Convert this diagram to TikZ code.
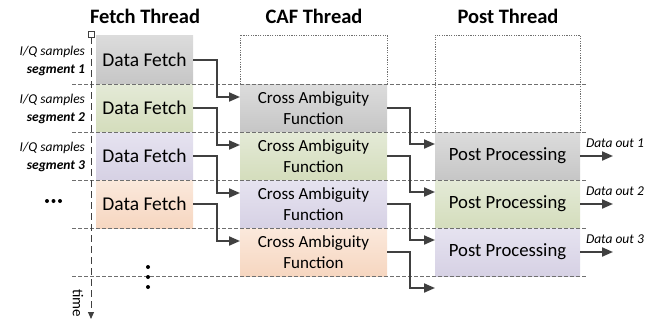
\documentclass[tikz,border=0pt]{standalone}
\usepackage{fontspec}
\setmainfont{Carlito}
\usetikzlibrary{arrows.meta,calc,positioning}
\definecolor{arrowc}{HTML}{404040}
\definecolor{gridc}{HTML}{6F6F6F}
\definecolor{grayT}{HTML}{DCDCDC}\definecolor{grayB}{HTML}{C6C6C6}
\definecolor{greenT}{HTML}{E4EAD7}\definecolor{greenB}{HTML}{D4DDBC}
\definecolor{lavT}{HTML}{E6E3F0}\definecolor{lavB}{HTML}{D6D1E4}
\definecolor{peachT}{HTML}{FBE9DC}\definecolor{peachB}{HTML}{F6D6C0}
\tikzset{
  every node/.style={inner sep=0pt, outer sep=0pt},
  header/.style={font=\fontsize{20.5}{22}\selectfont\bfseries},
  fetchbox/.style={font=\fontsize{19.5}{21.5}\selectfont, align=center, minimum width=97pt, minimum height=48pt},
  cafbox/.style={font=\fontsize{17}{21}\selectfont, align=center, minimum width=147pt, minimum height=48pt},
  postbox/.style={font=\fontsize{18.7}{21}\selectfont, align=center, minimum width=145pt, minimum height=48pt},
  cgray/.style={top color=grayT, bottom color=grayB},
  cgreen/.style={top color=greenT, bottom color=greenB},
  clav/.style={top color=lavT, bottom color=lavB},
  cpeach/.style={top color=peachT, bottom color=peachB},
  emptybox/.style={draw=gridc, dash pattern=on 1.2pt off 1.2pt, line width=1pt},
  gridline/.style={draw=gridc, dash pattern=on 3.5pt off 2.5pt, line width=0.8pt},
  arr/.style={draw=arrowc, line width=2pt, -{Triangle[length=11pt,width=9pt]}},
  sidelabel/.style={font=\fontsize{13.5}{18}\selectfont, align=right, anchor=east},
  outlabel/.style={font=\fontsize{13.5}{14}\selectfont\itshape, anchor=west},
  dot/.style={circle, fill=black, minimum size=4pt},
}
\begin{document}
\begin{tikzpicture}[x=1pt,y=-1pt]
\useasboundingbox (0,0) rectangle (656,324);
% headers
\node[header] (hf) at (145,16) {Fetch Thread};
\node[header] (hc) at (314,16) {CAF Thread};
\node[header] (hp) at (508,16) {Post Thread};
% fetch boxes
\node[fetchbox, cgray]  (f1) at (144.5,59.5) {Data Fetch};
\node[fetchbox, cgreen] (f2) at (144.5,108) {Data Fetch};
\node[fetchbox, clav]   (f3) at (144.5,156) {Data Fetch};
\node[fetchbox, cpeach] (f4) at (144.5,204) {Data Fetch};
% caf boxes
\node[cafbox, emptybox, minimum height=49pt] (c0) at (313.5,59.5) {};
\node[cafbox, cgray]  (c1) at (313.5,108) {Cross Ambiguity\\Function};
\node[cafbox, cgreen] (c2) at (313.5,156) {Cross Ambiguity\\Function};
\node[cafbox, clav]   (c3) at (313.5,204) {Cross Ambiguity\\Function};
\node[cafbox, cpeach] (c4) at (313.5,252) {Cross Ambiguity\\Function};
% post boxes
\node[postbox, emptybox, minimum height=97pt] (p0) at (507.5,83.5) {};
\node[postbox, cgray]  (p1) at (507.5,156) {Post Processing};
\node[postbox, cgreen] (p2) at (507.5,204) {Post Processing};
\node[postbox, clav]   (p3) at (507.5,252) {Post Processing};
% grid lines
\foreach \yy in {84,132,180,228,276}{
  \draw[gridline] (72,\yy) -- (587,\yy);
}
% time axis
\node[draw=arrowc, fill=white, line width=0.8pt, minimum size=6pt] (tsq) at (91,34) {};
\coordinate (tend) at (91,319);
\draw[draw=arrowc, line width=1pt, dash pattern=on 7pt off 4pt, -{Triangle[length=7pt,width=6pt]}] (tsq.south) -- (tend);
\node[font=\fontsize{15}{16}\selectfont, rotate=-90] (time) at (78,303) {time};
% side labels
\node[sidelabel] (l1) at (85,61) {\itshape I/Q samples\\\bfseries\itshape segment 1};
\node[sidelabel] (l2) at (85,109) {\itshape I/Q samples\\\bfseries\itshape segment 2};
\node[sidelabel] (l3) at (85,157) {\itshape I/Q samples\\\bfseries\itshape segment 3};
% dots
\node[dot] (hd1) at (47,201) {};
\node[dot] (hd2) at (53.5,201) {};
\node[dot] (hd3) at (60,201) {};
\node[dot] (vd1) at (148,267) {};
\node[dot] (vd2) at (148,277) {};
\node[dot] (vd3) at (148,287) {};
% fetch -> caf arrows
\draw[arr] (f1.east) -- ++(24,0) |- ($(c1.west)+(0,-11)$);
\draw[arr] (f2.east) -- ++(24,0) |- ($(c2.west)+(0,-11)$);
\draw[arr] (f3.east) -- ++(24,0) |- ($(c3.west)+(0,-11)$);
\draw[arr] (f4.east) -- ++(24,0) |- ($(c4.west)+(0,-11)$);
% caf -> post arrows
\coordinate (p4w) at (435,288);
\draw[arr] (c1.east) -- ++(23,0) |- ($(p1.west)+(0,-12)$);
\draw[arr] (c2.east) -- ++(23,0) |- ($(p2.west)+(0,-12)$);
\draw[arr] (c3.east) -- ++(23,0) |- ($(p3.west)+(0,-12)$);
\draw[arr] (c4.east) -- ++(23,0) |- (p4w);
% outputs
\coordinate (o1) at ($(p1.east)+(33,0)$);
\coordinate (o2) at ($(p2.east)+(33,0)$);
\coordinate (o3) at ($(p3.east)+(33,0)$);
\draw[arr] (p1.east) -- (o1);
\draw[arr] (p2.east) -- (o2);
\draw[arr] (p3.east) -- (o3);
\node[outlabel] (d1) at (586,143) {Data out 1};
\node[outlabel] (d2) at (586,191) {Data out 2};
\node[outlabel] (d3) at (586,239) {Data out 3};
\end{tikzpicture}
\end{document}
